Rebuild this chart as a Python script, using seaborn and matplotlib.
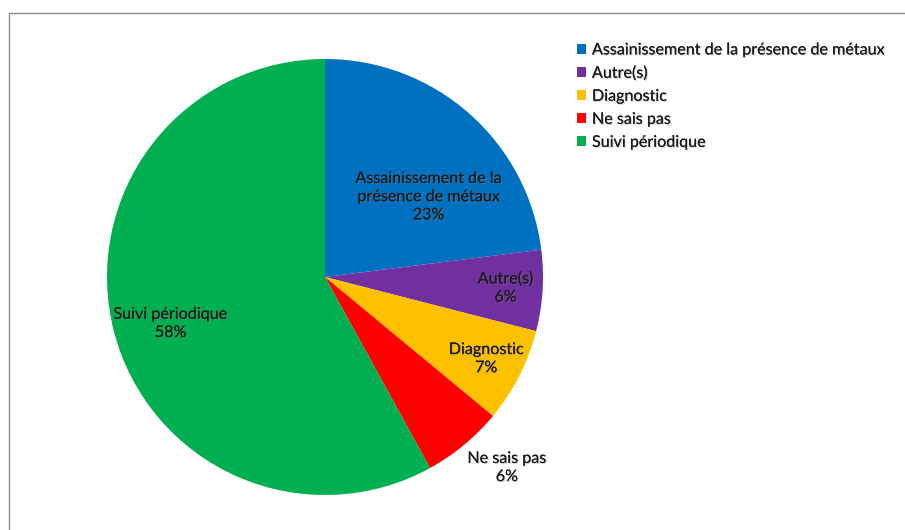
import numpy as np
import matplotlib
matplotlib.use("Agg")
import matplotlib.pyplot as plt
import matplotlib.patheffects as pe
from matplotlib.lines import Line2D
from matplotlib.patches import Patch
import seaborn as sns

# Répartition des réponses
categories = [
    "Assainissement de la présence de métaux",
    "Autre(s)",
    "Diagnostic",
    "Ne sais pas",
    "Suivi périodique",
]
slice_labels = [
    "Assainissement de la\nprésence de métaux",
    "Autre(s)",
    "Diagnostic",
    "Ne sais pas",
    "Suivi périodique",
]
values = [23, 6, 7, 6, 58]
colors_hex = ["#0070C0", "#7030A0", "#FFC000", "#FF0000", "#00B050"]

sns.set_theme(style="white")
plt.rcParams["font.family"] = ["Lato", "DejaVu Sans"]

W, H = 905, 530
fig = plt.figure(figsize=(W / 100, H / 100), dpi=100)
fig.patch.set_facecolor("white")

# pie area: centre (325, 277), radius 218 px
cx, cy, r = 325, 277, 218
ax = fig.add_axes([(cx - r) / W, (H - cy - r) / H, 2 * r / W, 2 * r / H])
palette = sns.color_palette(colors_hex)

wedges, _ = ax.pie(
    values,
    colors=palette,
    startangle=90,
    counterclock=False,
    radius=1.0,
    wedgeprops=dict(linewidth=0),
)
ax.set_xlim(-1, 1)
ax.set_ylim(-1, 1)
ax.set_aspect("equal")
ax.axis("off")

# label placement: radial distance and angular shift (degrees) per slice
label_r = [0.60, 0.83, 0.83, 1.21, 0.74]
label_shift = [-11, 0, 0, 4, 2.5]

shadow = [pe.withSimplePatchShadow(offset=(0.8, -0.8), shadow_rgbFace="#888888", alpha=0.35),
          pe.Normal()]

FS = 11.6
total = sum(values)
start = 90.0
for v, lab, rr, sh in zip(values, slice_labels, label_r, label_shift):
    sweep = 360.0 * v / total
    mid = np.deg2rad(start - sweep / 2 + sh)
    start -= sweep
    pct = f"{round(100 * v / total)}%"
    ax.text(rr * np.cos(mid), rr * np.sin(mid), f"{lab}\n{pct}",
            ha="center", va="center", fontsize=FS, color="#1a1a1a",
            linespacing=1.38, path_effects=shadow)

handles = [Patch(facecolor=c, edgecolor="none") for c in palette]
leg = fig.legend(
    handles, categories,
    loc="upper left",
    bbox_to_anchor=(571 / W, 1 - 37 / H),
    frameon=False,
    fontsize=FS,
    handlelength=0.55,
    handleheight=0.55,
    handletextpad=0.35,
    labelspacing=0.56,
    borderaxespad=0,
)
for t in leg.get_texts():
    t.set_color("#1a1a1a")
    t.set_path_effects(shadow)

# chart frame (top and left edges visible)
fig.add_artist(Line2D([9 / W, 1.0], [1 - 13 / H, 1 - 13 / H], transform=fig.transFigure,
                      color="#8c8c8c", linewidth=1.0))
fig.add_artist(Line2D([9 / W, 9 / W], [1 - 13 / H, 0.0], transform=fig.transFigure,
                      color="#8c8c8c", linewidth=1.0))

fig.savefig("out.png", dpi=100, facecolor="white")
